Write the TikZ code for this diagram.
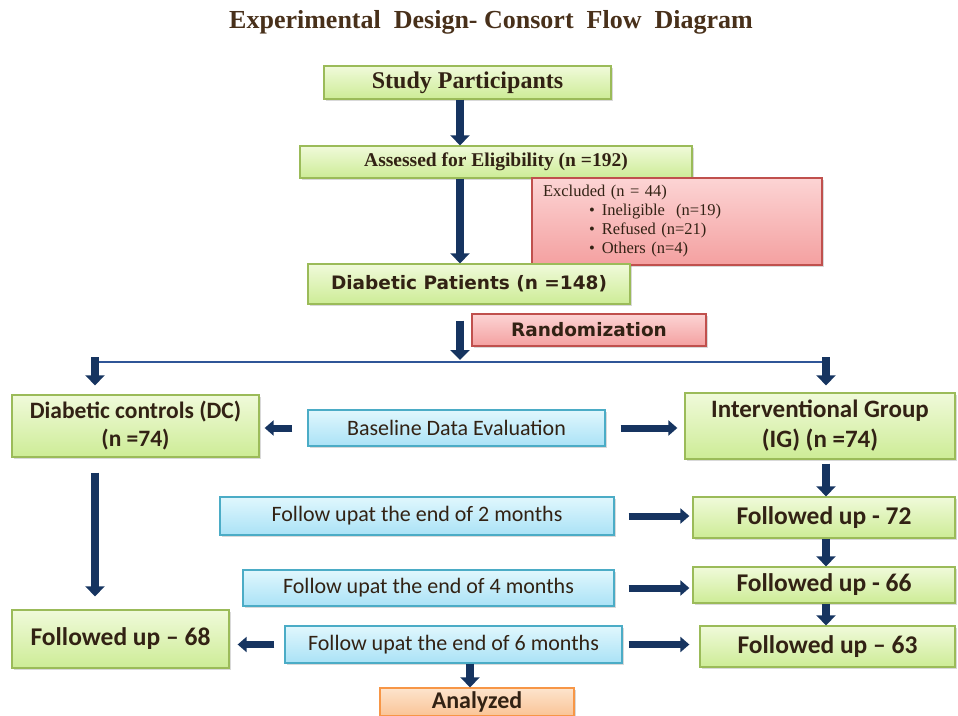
\documentclass[tikz,border=0pt]{standalone}
\usepackage{fontspec}
\setmainfont{Liberation Serif}
\newfontfamily\calfont{Carlito}
\newfontfamily\verdfont{DejaVu Sans}
\usetikzlibrary{arrows.meta,shadows}

\definecolor{titlebrown}{RGB}{72,48,26}
\definecolor{inktxt}{RGB}{50,34,20}
\definecolor{arrownavy}{RGB}{22,52,96}
\definecolor{forkblue}{RGB}{47,85,151}
\definecolor{greenline}{RGB}{155,187,89}
\definecolor{greentop}{RGB}{240,250,218}
\definecolor{greenbot}{RGB}{205,236,150}
\definecolor{blueline}{RGB}{75,172,198}
\definecolor{bluetop}{RGB}{224,247,253}
\definecolor{bluebot}{RGB}{170,226,246}
\definecolor{redline}{RGB}{192,80,77}
\definecolor{redtop}{RGB}{252,212,212}
\definecolor{redbot}{RGB}{244,160,160}
\definecolor{orangeline}{RGB}{247,150,70}
\definecolor{orangetop}{RGB}{253,228,205}
\definecolor{orangebot}{RGB}{250,196,150}

\tikzset{
  flowbox/.style={line width=1.3pt, inner sep=2pt, align=center, text=inktxt,
    drop shadow={opacity=0.3, shadow xshift=2pt, shadow yshift=-2pt}},
  greenbox/.style={flowbox, draw=greenline, top color=greentop, bottom color=greenbot},
  bluebox/.style={flowbox, draw=blueline, top color=bluetop, bottom color=bluebot},
  redbox/.style={flowbox, draw=redline, top color=redtop, bottom color=redbot},
  orangebox/.style={flowbox, draw=orangeline, top color=orangetop, bottom color=orangebot},
  barrow/.style={draw=arrownavy, line width=8pt, -{Triangle[width=19pt,length=10pt]}},
  harrow/.style={draw=arrownavy, line width=7pt, -{Triangle[width=15pt,length=9pt]}},
}

\begin{document}
\begin{tikzpicture}[x=1pt,y=1pt,yscale=-1,xscale=1]
  \useasboundingbox (0,0) rectangle (958,715);
  \clip (0,0) rectangle (958,715);

  % Title
  \node[font=\fontsize{26}{30}\selectfont\bfseries, text=titlebrown] (title) at (491,22) {Experimental~~Design- Consort~ Flow~ Diagram};

  % Boxes: enrolment
  \node[greenbox, minimum width=287pt, minimum height=33pt, font=\fontsize{24}{27}\selectfont\bfseries] (study) at (467.5,82.5) {Study Participants};
  \node[greenbox, minimum width=392pt, minimum height=32pt, font=\fontsize{19.5}{22}\selectfont\bfseries] (assess) at (496,162) {Assessed for Eligibility (n =192)};
  \node[redbox, minimum width=290pt, minimum height=87pt, text width=268pt, inner xsep=11pt, inner ysep=0pt, align=left, font=\fontsize{16.5}{19}\selectfont] (excl) at (677,221.5) {Excluded (n = 44)\\
    \hspace*{46pt}\textbullet\hspace{7pt}Ineligible\ \ (n=19)\\
    \hspace*{46pt}\textbullet\hspace{7pt}Refused (n=21)\\
    \hspace*{46pt}\textbullet\hspace{7pt}Others (n=4)};
  \node[greenbox, minimum width=322pt, minimum height=40pt, font=\verdfont\fontsize{18.5}{22}\selectfont\bfseries] (patients) at (469,284) {Diabetic\ Patients (n =148)};
  \node[redbox, minimum width=234pt, minimum height=32pt, font=\verdfont\fontsize{18.5}{22}\selectfont\bfseries] (random) at (589,330) {Randomization};

  % Boxes: groups
  \node[greenbox, minimum width=247pt, minimum height=62pt, font=\calfont\fontsize{23.5}{28}\selectfont\bfseries] (dc) at (135.5,426) {Diabetic controls (DC)\\(n =74)};
  \node[bluebox, minimum width=297pt, minimum height=36pt, font=\calfont\fontsize{22}{26}\selectfont] (baseline) at (456.5,428) {Baseline Data Evaluation};
  \node[greenbox, minimum width=270pt, minimum height=66pt, font=\calfont\fontsize{25}{30}\selectfont\bfseries] (ig) at (820,426) {Interventional Group\\(IG) (n =74)};

  % Boxes: follow up
  \node[bluebox, minimum width=394pt, minimum height=38pt, font=\calfont\fontsize{22}{26}\selectfont] (fu2) at (417,516) {Follow upat the end of 2 months};
  \node[greenbox, minimum width=262pt, minimum height=41pt, font=\calfont\fontsize{25.5}{30}\selectfont\bfseries] (f72) at (824,517.5) {Followed up - 72};
  \node[bluebox, minimum width=371pt, minimum height=36pt, font=\calfont\fontsize{22}{26}\selectfont] (fu4) at (428.5,588) {Follow upat the end of 4 months};
  \node[greenbox, minimum width=262pt, minimum height=36pt, font=\calfont\fontsize{25.5}{30}\selectfont\bfseries] (f66) at (824,585) {Followed up - 66};
  \node[greenbox, minimum width=217pt, minimum height=58pt, font=\calfont\fontsize{25.5}{30}\selectfont\bfseries] (f68) at (120.5,639) {Followed up – 68};
  \node[bluebox, minimum width=337pt, minimum height=37pt, font=\calfont\fontsize{22}{26}\selectfont] (fu6) at (453.5,644.5) {Follow upat the end of 6 months};
  \node[greenbox, minimum width=255pt, minimum height=41pt, font=\calfont\fontsize{25.5}{30}\selectfont\bfseries] (f63) at (827.5,646.5) {Followed up – 63};
  \node[orangebox, minimum width=194pt, minimum height=28pt, inner ysep=1pt, font=\calfont\fontsize{24}{28}\selectfont\bfseries] (analyzed) at (477,702) {Analyzed};

  % Guide coordinates
  \coordinate (axis) at (460,0);
  \coordinate (axisB) at (470,0);
  \coordinate (fork) at (460,362);
  \coordinate (forkL) at (95,362);
  \coordinate (forkR) at (826,362);

  % Main column arrows
  \draw[barrow] (study.south -| axis) -- (assess.north -| axis);
  \draw[barrow] (assess.south -| axis) -- (patients.north -| axis);
  \draw[barrow, shorten <=16pt, shorten >=2pt] (patients.south -| axis) -- (fork);

  % Randomization split
  \draw[forkblue, line width=2.5pt] (forkL) -- (forkR);
  \draw[barrow, shorten <=-5pt, shorten >=9pt] (forkL) -- (dc.north -| forkL);
  \draw[barrow, shorten <=-5pt, shorten >=7pt] (forkR) -- (ig.north -| forkR);

  % Baseline arrows
  \draw[harrow, shorten <=15pt, shorten >=5pt] (baseline.west) -- (baseline.west -| dc.east);
  \draw[harrow, shorten <=15pt, shorten >=7pt] (baseline.east) -- (baseline.east -| ig.west);

  % Right column
  \draw[barrow, shorten <=4pt] (ig.south -| forkR) -- (f72.north -| forkR);
  \draw[barrow] (f72.south -| forkR) -- (f66.north -| forkR);
  \draw[barrow] (f66.south -| forkR) -- (f63.north -| forkR);

  % Left column
  \draw[barrow, shorten <=15pt, shorten >=13pt] (dc.south -| forkL) -- (f68.north -| forkL);

  % Follow up arrows
  \draw[harrow, shorten <=14pt, shorten >=3pt] (fu2.east) -- (fu2.east -| f72.west);
  \draw[harrow, shorten <=14pt, shorten >=3pt] (fu4.east) -- (fu4.east -| f66.west);
  \draw[harrow, shorten <=10pt, shorten >=8pt] (fu6.west) -- (fu6.west -| f68.east);
  \draw[harrow, shorten <=6pt, shorten >=10pt] (fu6.east) -- (fu6.east -| f63.west);
  \draw[barrow] (fu6.south -| axisB) -- (analyzed.north -| axisB);
\end{tikzpicture}
\end{document}
